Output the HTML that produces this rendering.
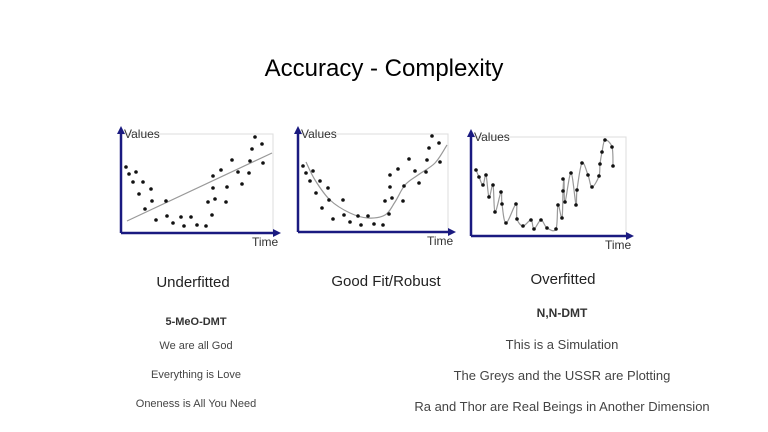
<!DOCTYPE html>
<html><head><meta charset="utf-8"><style>
html,body{margin:0;padding:0;background:#fff;}
body{width:768px;height:432px;overflow:hidden;position:relative;font-family:"Liberation Sans",sans-serif;}
.t{position:absolute;white-space:nowrap;transform:translateX(-50%);color:#444;}
</style></head><body>
<svg id="s" width="768" height="432" style="position:absolute;left:0;top:0" font-family="Liberation Sans, sans-serif">
<defs><marker id="a" markerWidth="8" markerHeight="8" refX="4" refY="4" orient="auto" markerUnits="userSpaceOnUse"><path d="M0,0 L8,4 L0,8 z" fill="#1a1a80"/></marker></defs>
<text x="384" y="76" font-size="24" text-anchor="middle" fill="#000">Accuracy - Complexity</text>
<g font-size="15" fill="#222" text-anchor="middle">
<text x="193" y="287">Underfitted</text>
<text x="386" y="286">Good Fit/Robust</text>
<text x="563" y="284">Overfitted</text>
</g>
</svg>
<div class="t" style="left:196px;top:316px;font-size:11px;font-weight:bold;color:#333">5-MeO-DMT</div>
<div class="t" style="left:562px;top:306px;font-size:12px;font-weight:bold;color:#333">N,N-DMT</div>
<div class="t" style="left:196px;top:340px;font-size:11px">We are all God</div>
<div class="t" style="left:196px;top:369px;font-size:11px">Everything is Love</div>
<div class="t" style="left:196px;top:398px;font-size:11px">Oneness is All You Need</div>
<div class="t" style="left:562px;top:337px;font-size:13px">This is a Simulation</div>
<div class="t" style="left:562px;top:368px;font-size:13px">The Greys and the USSR are Plotting</div>
<div class="t" style="left:562px;top:399px;font-size:13px">Ra and Thor are Real Beings in Another Dimension</div>
<script>
var P=[[126,167],[129,174],[133,182],[136,172],[139,194],[143,182],[145,209],[151,189],[152,201],[156,220],[166,201],[167,216],[173,223],[181,217],[184,226],[191,217],[197,225],[206,226],[208,202],[212,215],[213,188],[213,176],[215,199],[221,170],[226,202],[227,187],[232,160],[238,172],[242,184],[249,173],[250,161],[252,149],[255,137],[262,144],[263,163]];
var s=document.getElementById('s'),NS='http://www.w3.org/2000/svg';
function el(n,a){var e=document.createElementNS(NS,n);for(var k in a)e.setAttribute(k,a[k]);s.appendChild(e);return e;}
function panel(dx,dy,ax,ay,xr){
 el('rect',{x:ax,y:134+dy,width:xr-ax-4,height:ay-134-dy,fill:'none',stroke:'#ddd','stroke-width':1});
 el('line',{x1:ax,y1:ay,x2:ax,y2:130+dy,stroke:'#1a1a80','stroke-width':2.5,'marker-end':'url(#a)'});
 el('line',{x1:ax,y1:ay,x2:xr,y2:ay,stroke:'#1a1a80','stroke-width':2.5,'marker-end':'url(#a)'});
 var t=el('text',{x:ax+3,y:138+dy,'font-size':12,fill:'#333'});t.textContent='Values';
 var t2=el('text',{x:xr-25,y:ay+13,'font-size':12,fill:'#333'});t2.textContent='Time';
}
function dots(dx,dy){P.forEach(function(p){el('circle',{cx:p[0]+dx,cy:p[1]+dy,r:1.8,fill:'#111'});});}
function smooth(pts){var d='M'+pts[0][0]+','+pts[0][1];for(var i=0;i<pts.length-1;i++){var p0=pts[i-1]||pts[i],p1=pts[i],p2=pts[i+1],p3=pts[i+2]||p2;d+=' C'+(p1[0]+(p2[0]-p0[0])/6)+','+(p1[1]+(p2[1]-p0[1])/6)+' '+(p2[0]-(p3[0]-p1[0])/6)+','+(p2[1]-(p3[1]-p1[1])/6)+' '+p2[0]+','+p2[1];}return d;}
panel(0,0,121,233,277);
el('line',{x1:127,y1:221,x2:272,y2:153,stroke:'#999','stroke-width':1.2});
dots(0,0);
panel(177,0,298,232,452);
el('path',{d:smooth([[306,162],[315,180],[330,200],[350,213],[368,218],[385,215],[395,202],[405,185],[418,175],[435,163],[447,145]]),fill:'none',stroke:'#999','stroke-width':1.2});
dots(177,-1);
panel(350,3,471,236,630);
var q=P.map(function(p){return [p[0]+350,p[1]+3];}).sort(function(a,b){return a[0]-b[0];});
var u=[];q.forEach(function(p){if(u.length&&p[0]-u[u.length-1][0]<1)p=[u[u.length-1][0]+1,p[1]];u.push(p);});
el('path',{d:smooth(u),fill:'none',stroke:'#999','stroke-width':1.2});
dots(350,3);
</script>
</body></html>
